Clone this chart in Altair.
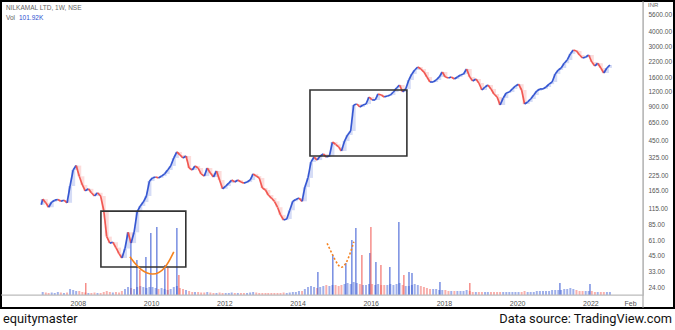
import altair as alt
import pandas as pd

# ---- monthly closes (INR) ----
c2007 = [140, 130, 119, 132, 137, 139, 134, 137, 130, 182, 251, 274]
c2008 = [221, 186, 165, 172, 159, 149, 159, 149, 112, 66, 58, 59]
c2009 = [53, 47, 43, 52, 72, 58, 72, 109, 122, 132, 149, 201]
c2010 = [214, 218, 214, 222, 232, 251, 272, 319, 360, 339, 319, 332]
c2011 = [261, 251, 272, 261, 232, 222, 261, 236, 218, 246, 205, 172]
c2012 = [182, 193, 205, 197, 205, 197, 193, 197, 205, 232, 222, 214]
c2013 = [175, 168, 152, 143, 134, 119, 102, 92, 94, 112, 134, 139]
c2014 = [143, 134, 178, 214, 294, 325, 306, 332, 346, 325, 332, 439]
c2015 = [420, 398, 367, 448, 506, 548, 922, 941, 886, 922, 941, 1083]
c2016 = [1020, 1020, 1150, 1127, 1083, 1105, 1127, 1197, 1297, 1377, 1197, 1272]
c2017 = [1522, 1718, 1860, 1975, 1897, 1786, 1617, 1462, 1462, 1522, 1617, 1786]
c2018 = [1617, 1585, 1617, 1553, 1617, 1683, 1718, 1897, 1617, 1492, 1553, 1434]
c2019 = [1246, 1323, 1377, 1272, 1150, 1083, 922, 1060, 1173, 1197, 1272, 1350]
c2020 = [1400, 1246, 941, 980, 1040, 1127, 1222, 1272, 1272, 1323, 1400, 1462]
c2021 = [1718, 1860, 1936, 2130, 2273, 2570, 2778, 2720, 2512, 2366, 2410, 2512]
c2022 = [2183, 2015, 2130, 1936, 1752, 1936, 2056]
first_open = 125

# ---- monthly base volume (thousand shares) ----
v2007 = [30, 25, 20, 25, 20, 30, 25, 20, 25, 60, 50, 40]
v2008 = [40, 30, 25, 20, 20, 25, 20, 20, 30, 40, 30, 25]
v2009 = [30, 25, 40, 60, 80, 70, 60, 80, 90, 80, 70, 80]
v2010 = [80, 70, 60, 70, 60, 50, 60, 80, 90, 70, 60, 50]
v2011 = [40, 30, 30, 30, 25, 25, 30, 25, 20, 20, 25, 20]
v2012 = [20, 20, 25, 20, 20, 20, 20, 20, 25, 30, 25, 20]
v2013 = [20, 20, 20, 20, 20, 20, 20, 25, 20, 25, 30, 30]
v2014 = [40, 40, 60, 80, 90, 80, 70, 80, 90, 100, 90, 100]
v2015 = [100, 90, 100, 110, 120, 110, 130, 120, 110, 100, 100, 110]
v2016 = [110, 100, 110, 100, 100, 100, 110, 100, 110, 120, 100, 90]
v2017 = [90, 100, 110, 100, 90, 80, 70, 60, 60, 60, 50, 50]
v2018 = [50, 40, 40, 40, 40, 40, 40, 50, 40, 30, 30, 30]
v2019 = [30, 30, 30, 30, 30, 30, 30, 30, 30, 30, 30, 30]
v2020 = [30, 30, 40, 30, 30, 30, 40, 40, 40, 40, 40, 50]
v2021 = [50, 50, 50, 60, 60, 70, 60, 50, 40, 40, 40, 40]
v2022 = [40, 30, 30, 30, 30, 30, 30]

# ---- weekly volume spikes ----
spike_dates = ["2008-03-20", "2009-06-13", "2009-08-12", "2009-09-11", "2009-11-10",
               "2009-12-29", "2010-02-27", "2010-05-18", "2010-06-17", "2010-09-15",
               "2010-10-05", "2014-07-23", "2014-12-19", "2015-04-28", "2015-06-27",
               "2015-08-06", "2015-10-05", "2015-12-24", "2016-01-03", "2016-02-22",
               "2016-04-12", "2016-07-10", "2016-10-08", "2016-11-27", "2017-01-17",
               "2017-02-16", "2017-11-22", "2018-09-16", "2021-03-03", "2021-12-28"]
spike_vols = [120, 550, 350, 250, 380, 620, 680, 300, 270, 670, 200, 230, 400, 320, 550,
              670, 400, 420, 680, 330, 300, 280, 730, 200, 230, 220, 130, 120, 120, 110]
spike_dirs = ["down", "up", "up", "down", "up", "up", "up", "up", "down", "up", "down",
              "up", "up", "up", "up", "up", "down", "up", "down", "up", "down", "up",
              "up", "down", "up", "up", "up", "down", "up", "up"]

# ---- annotations ----
box_x1 = ["2008-08-18", "2014-05-05"]
box_x2 = ["2010-12-13", "2016-12-27"]
box_top = [110, 1245]
box_bottom = [35.9, 332]
curve1_dates = ["2009-06-03", "2009-09-11", "2010-01-18", "2010-05-18", "2010-08-15"]
curve1_prices = [44.1, 33.8, 30.0, 33.8, 48.7]
curve2_dates = ["2014-10-23", "2015-01-09", "2015-03-16", "2015-05-21", "2015-07-17"]
curve2_prices = [57.7, 41.3, 33.3, 41.3, 59.6]

price_ticks = [24, 33, 45, 61, 85, 115, 165, 225, 325, 450, 650, 900, 1200, 1600, 2200,
               3000, 4000, 5600]
year_ticks = [2008, 2010, 2012, 2014, 2016, 2018, 2020, 2022]

UP = "#2c4fd0"
DOWN = "#f0504a"

closes = (c2007 + c2008 + c2009 + c2010 + c2011 + c2012 + c2013 + c2014 + c2015 +
          c2016 + c2017 + c2018 + c2019 + c2020 + c2021 + c2022)
vols = (v2007 + v2008 + v2009 + v2010 + v2011 + v2012 + v2013 + v2014 + v2015 +
        v2016 + v2017 + v2018 + v2019 + v2020 + v2021 + v2022)
opens = [first_open] + closes[:-1]
mstart = pd.date_range("2007-01-01", periods=len(closes), freq="MS")
tmid = mstart + pd.Timedelta(days=14)
tprev = [mstart[0]] + list(tmid[:-1])
candles = pd.DataFrame({
    "tp": pd.DatetimeIndex(tprev).strftime("%Y-%m-%d"),
    "tm": tmid.strftime("%Y-%m-%d"),
    "o": opens,
    "c": closes,
    "v": vols,
})
candles["dir"] = ["up" if c >= o else "down" for o, c in zip(opens, closes)]

spikes = pd.DataFrame({"t": spike_dates, "v": spike_vols, "dir": spike_dirs})
boxes = pd.DataFrame({"x1": box_x1, "x2": box_x2, "top": box_top, "bottom": box_bottom})
curve1 = pd.DataFrame({"t": curve1_dates, "p": curve1_prices})
curve2 = pd.DataFrame({"t": curve2_dates, "p": curve2_prices})

xscale = alt.Scale(domain=[alt.DateTime(year=2005, month=11, date=25),
                           alt.DateTime(year=2023, month=6, date=10)])
xaxis = alt.Axis(
    values=[alt.DateTime(year=y, month=1, date=1) for y in year_ticks]
    + [alt.DateTime(year=2023, month=2, date=1)],
    labelExpr="month(datum.value) == 1 ? 'Feb' : timeFormat(datum.value, '%Y')",
    grid=False, ticks=False, domain=False, labelPadding=4, labelFontSize=7,
    labelColor="#555", title=None, labelFont="Liberation Sans",
)
yscale = alt.Scale(type="log", domain=[20.5, 7410])
yaxis = alt.Axis(orient="right", values=price_ticks, format=".2f", grid=False,
                 ticks=False, domain=False, labelPadding=5, labelFontSize=6.5,
                 labelColor="#555", title=None, labelFont="Liberation Sans")
color = alt.Color("dir:N", scale=alt.Scale(domain=["up", "down"], range=[UP, DOWN]),
                  legend=None)


def X(field):
    return alt.X(field, scale=xscale, axis=xaxis)


def Y(field):
    return alt.Y(field, scale=yscale, axis=yaxis)


halo = alt.Chart(candles).mark_rule(strokeWidth=4, opacity=0.2).encode(
    x=X("tm:T"), y=Y("o:Q"), y2="c:Q", color=color,
)
body = alt.Chart(candles).mark_rule(strokeWidth=1.7, opacity=0.95).encode(
    x=X("tp:T"), x2="tm:T", y=Y("o:Q"), y2="c:Q", color=color,
)
rects = alt.Chart(boxes).mark_rect(fillOpacity=0, stroke="#333", strokeWidth=1.6).encode(
    x=X("x1:T"), x2="x2:T", y=Y("top:Q"), y2="bottom:Q",
)
cur1 = alt.Chart(curve1).mark_line(color="#f5821f", strokeWidth=1.6,
                                   interpolate="basis").encode(
    x=X("t:T"), y=Y("p:Q"),
)
cur2 = alt.Chart(curve2).mark_line(color="#f5821f", strokeWidth=1.6,
                                   interpolate="basis", strokeDash=[2, 2]).encode(
    x=X("t:T"), y=Y("p:Q"),
)

one = alt.Data(values=[{}])
frame = alt.Chart(one).mark_rect(fillOpacity=0, stroke="black", strokeWidth=2).encode(
    x=alt.value(0), x2=alt.value(673), y=alt.value(0), y2=alt.value(307))
vline = alt.Chart(one).mark_rule(color="#999", strokeWidth=1).encode(
    x=alt.value(642), y=alt.value(0), y2=alt.value(307))
hline = alt.Chart(one).mark_rule(color="#bbb", strokeWidth=1).encode(
    x=alt.value(0), x2=alt.value(642), y=alt.value(294))


def label(text, x, y, size, col, align="left", font="Liberation Sans"):
    return alt.Chart(one).mark_text(align=align, baseline="middle", fontSize=size,
                                    color=col, font=font, text=text).encode(
        x=alt.value(x), y=alt.value(y))


t_title = label("NILKAMAL LTD, 1W, NSE", 5, 7, 6.5, "#666")
t_vol = label("Vol", 5, 17, 6.5, "#666")
t_volv = label("101.92K", 18, 17, 6.5, "#2c4fd0")
t_inr = label("INR", 647, 4, 6, "#666")
t_left = label("equitymaster", 2, 318, 12.8, "#111", font="Roboto")
t_right = label("Data source: TradingView.com", 671, 318, 12.8, "#111", align="right",
                font="Roboto")

price_group = alt.layer(halo, body, rects, cur1, cur2, frame, vline, hline,
                        t_title, t_vol, t_volv, t_inr, t_left, t_right)

vscale = alt.Scale(domain=[0, 2940])
vbase = alt.Chart(candles).mark_rule(strokeWidth=2, opacity=0.45).encode(
    x=X("tm:T"),
    y=alt.Y("v:Q", scale=vscale, axis=None),
    y2=alt.datum(0),
    color=color,
)
vspike = alt.Chart(spikes).mark_rule(strokeWidth=1.3, opacity=0.75).encode(
    x=X("t:T"),
    y=alt.Y("v:Q", scale=vscale, axis=None),
    y2=alt.datum(0),
    color=color,
)
vol_group = alt.layer(vbase, vspike)

chart = alt.layer(vol_group, price_group).resolve_scale(y="independent").properties(
    width=642, height=294,
    autosize=alt.AutoSizeParams(type="none"),
    padding={"left": 1, "top": 1, "right": 32, "bottom": 35},
).configure_view(stroke=None).configure(background="white")

chart.save("out.html", embed_options={"renderer": "svg", "actions": False})
